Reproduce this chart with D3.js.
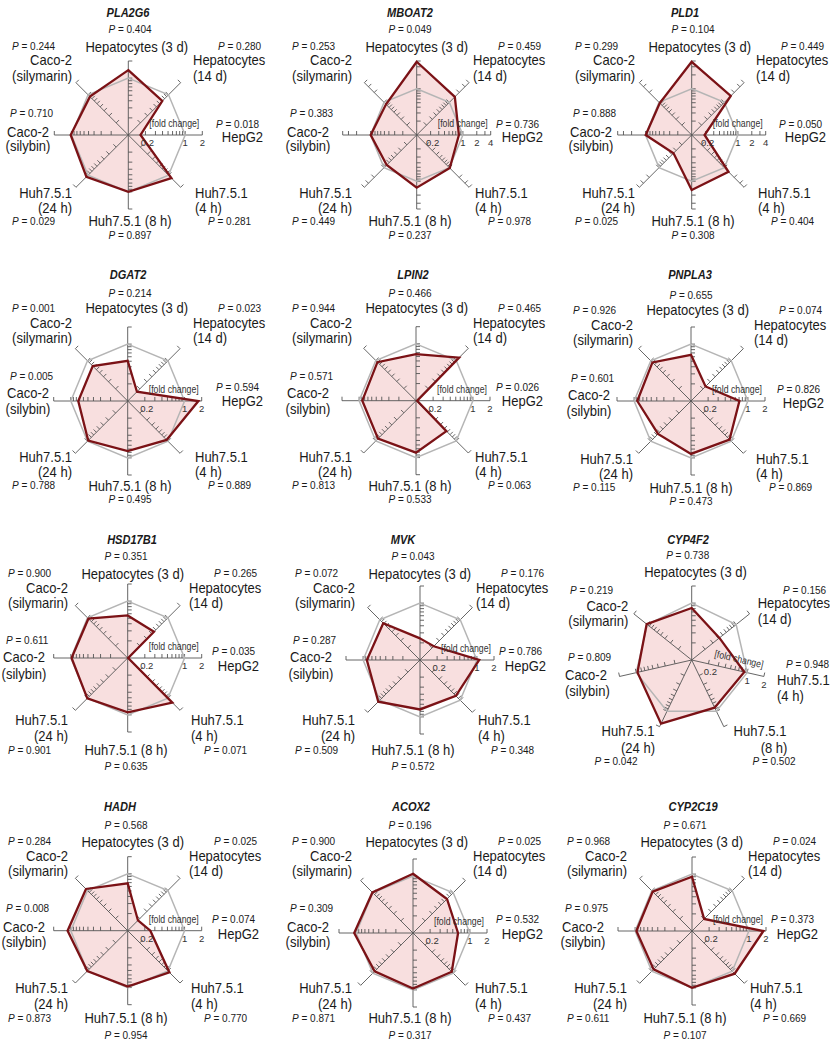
<!DOCTYPE html>
<html><head><meta charset="utf-8">
<script src="https://cdn.jsdelivr.net/npm/d3@7"></script>
<style>
body{margin:0;background:#fff}
text{font-family:"Liberation Sans",Arial,sans-serif;fill:#1a1a1a}
</style></head>
<body><svg id="chart" width="830" height="1044"></svg>
<script>
// Conditions (axes), clockwise from the top
const conditions8 = ["Hepatocytes (3 d)", "Hepatocytes (14 d)", "HepG2", "Huh7.5.1 (4 h)",
  "Huh7.5.1 (8 h)", "Huh7.5.1 (24 h)", "Caco-2 (silybin)", "Caco-2 (silymarin)"];
const conditions7 = ["Hepatocytes (3 d)", "Hepatocytes (14 d)", "Huh7.5.1 (4 h)",
  "Huh7.5.1 (8 h)", "Huh7.5.1 (24 h)", "Caco-2 (silybin)", "Caco-2 (silymarin)"];

const genes = ["PLA2G6", "MBOAT2", "PLD1", "DGAT2", "LPIN2", "PNPLA3",
  "HSD17B1", "MVK", "CYP4F2", "HADH", "ACOX2", "CYP2C19"];

// Fold change (treated / control), one value per condition
const fcPLA2G6  = [1.38, 0.70, 0.164, 1.18, 1.00, 1.10, 1.03, 0.90];
const fcMBOAT2  = [3.85, 1.47, 0.82, 1.03, 1.38, 0.83, 0.99, 0.87];
const fcPLD1    = [3.85, 1.57, 0.19, 1.34, 1.55, 0.36, 0.99, 0.95];
const fcDGAT2   = [0.51, 0.17, 1.75, 0.93, 0.76, 0.96, 0.74, 0.74];
const fcLPIN2   = [0.66, 1.18, 0.105, 0.57, 0.82, 0.88, 0.88, 0.91];
const fcPNPLA3  = [0.65, 0.23, 0.71, 0.91, 0.85, 0.66, 0.88, 0.91];
const fcHSD17B1 = [0.56, 0.45, 0.102, 1.29, 0.90, 1.01, 0.97, 0.95];
const fcMVK     = [0.24, 0.22, 1.10, 0.78, 0.74, 1.09, 0.86, 0.82];
const fcCYP4F2  = [0.82, 0.42, 0.89, 0.85, 1.75, 0.95, 1.03];
const fcHADH    = [0.68, 0.18, 0.25, 1.09, 0.96, 1.01, 1.14, 1.09];
const fcACOX2   = [1.10, 0.70, 0.62, 0.92, 0.95, 0.90, 1.08, 1.02];
const fcCYP2C19 = [0.90, 0.20, 1.80, 1.15, 1.00, 0.90, 0.95, 0.95];

// P values, same order as the conditions
const pPLA2G6  = ["0.404", "0.280", "0.018", "0.281", "0.897", "0.029", "0.710", "0.244"];
const pMBOAT2  = ["0.049", "0.459", "0.736", "0.978", "0.237", "0.449", "0.383", "0.253"];
const pPLD1    = ["0.104", "0.449", "0.050", "0.404", "0.308", "0.025", "0.888", "0.299"];
const pDGAT2   = ["0.214", "0.023", "0.594", "0.889", "0.495", "0.788", "0.005", "0.001"];
const pLPIN2   = ["0.466", "0.465", "0.026", "0.063", "0.533", "0.813", "0.571", "0.944"];
const pPNPLA3  = ["0.655", "0.074", "0.826", "0.869", "0.473", "0.115", "0.601", "0.926"];
const pHSD17B1 = ["0.351", "0.265", "0.035", "0.071", "0.635", "0.901", "0.611", "0.900"];
const pMVK     = ["0.043", "0.176", "0.786", "0.348", "0.572", "0.509", "0.287", "0.072"];
const pCYP4F2  = ["0.738", "0.156", "0.948", "0.502", "0.042", "0.809", "0.219"];
const pHADH    = ["0.568", "0.025", "0.074", "0.770", "0.954", "0.873", "0.008", "0.284"];
const pACOX2   = ["0.196", "0.025", "0.532", "0.437", "0.317", "0.871", "0.309", "0.900"];
const pCYP2C19 = ["0.671", "0.024", "0.373", "0.669", "0.107", "0.611", "0.975", "0.968"];

// Upper end of the log fold-change axis per gene
const axisMax = [2, 4, 4, 2, 2, 2, 2, 2, 2, 2, 2, 2];

// Tick values and labelled ticks
const ticksTo2 = [0.2, 0.3, 0.4, 0.5, 0.6, 0.7, 0.8, 0.9, 1, 2];
const ticksTo4 = [0.2, 0.3, 0.4, 0.5, 0.6, 0.7, 0.8, 0.9, 1, 2, 3, 4];
const tickLabelsTo2 = [0.2, 1, 2];
const tickLabelsTo4 = [0.2, 1, 2, 4];
const referenceFold = 1;

const foldTable = {PLA2G6: fcPLA2G6, MBOAT2: fcMBOAT2, PLD1: fcPLD1, DGAT2: fcDGAT2, LPIN2: fcLPIN2,
  PNPLA3: fcPNPLA3, HSD17B1: fcHSD17B1, MVK: fcMVK, CYP4F2: fcCYP4F2, HADH: fcHADH, ACOX2: fcACOX2, CYP2C19: fcCYP2C19};
const pTable = {PLA2G6: pPLA2G6, MBOAT2: pMBOAT2, PLD1: pPLD1, DGAT2: pDGAT2, LPIN2: pLPIN2,
  PNPLA3: pPNPLA3, HSD17B1: pHSD17B1, MVK: pMVK, CYP4F2: pCYP4F2, HADH: pHADH, ACOX2: pACOX2, CYP2C19: pCYP2C19};

// ---- layout ----
const R = 74;
const panelGeom = {
  PLA2G6:  {row: 0, ox: 0,   cx: 128.3, cy: 135,   tx: 128},
  MBOAT2:  {row: 0, ox: 280, cx: 416.7, cy: 135,   tx: 410},
  PLD1:    {row: 0, ox: 563, cx: 691.7, cy: 135,   tx: 685},
  DGAT2:   {row: 1, ox: 0,   cx: 127.7, cy: 401,   tx: 128},
  LPIN2:   {row: 1, ox: 280, cx: 416,   cy: 400.7, tx: 413},
  PNPLA3:  {row: 1, ox: 561, cx: 691,   cy: 401,   tx: 690, dy: 2},
  HSD17B1: {row: 2, ox: -4,  cx: 127.7, cy: 658,   tx: 132},
  MVK:     {row: 2, ox: 283, cx: 420,   cy: 660,   tx: 403},
  CYP4F2:  {row: 2, ox: 555, cx: 691.7, cy: 660,   tx: 688},
  HADH:    {row: 3, ox: -4,  cx: 127.7, cy: 930.7, tx: 120},
  ACOX2:   {row: 3, ox: 280, cx: 413,   cy: 933,   tx: 411},
  CYP2C19: {row: 3, ox: 555, cx: 692,   cy: 931,   tx: 693}
};
// vertical text positions (centres) for each row of panels
const rowY = [
  {title: 12.7, p3d: 29.3, hep3d: 46.7, pUp: 46.5, up1: 60, up2: 75.7, pMidL: 113, pMidR: 124, midL1: 131.7, midL2: 146, midR: 137, low1: 192.7, low2: 208, pLow: 221.7, huh8: 221, p8: 235},
  {title: 274.3, p3d: 293.3, hep3d: 308.3, pUp: 308.3, up1: 323.3, up2: 338.3, pMidL: 376.7, pMidR: 387.7, midL1: 392.7, midL2: 409, midR: 401, low1: 456.7, low2: 471.7, pLow: 485, huh8: 486, p8: 499},
  {title: 539.3, p3d: 556.7, hep3d: 574, pUp: 573.7, up1: 588.3, up2: 603.3, pMidL: 640, pMidR: 651.7, midL1: 657.3, midL2: 674, midR: 666, low1: 720, low2: 736, pLow: 750, huh8: 750, p8: 766.7},
  {title: 806.7, p3d: 825, hep3d: 841.7, pUp: 841.7, up1: 856, up2: 870.7, pMidL: 908.3, pMidR: 919.3, midL1: 926.7, midL2: 941.7, midR: 934, low1: 988.3, low2: 1004, pLow: 1018.3, huh8: 1018.3, p8: 1035}
];

const svg = d3.select("#chart");
const LABEL_SIZE = 14, LABEL_SQUEEZE = 0.93, P_SIZE = 10;
const TITLE_SIZE = 13, TITLE_SQUEEZE = 0.85;

// axis-condition label: slightly condensed sans
function label(g, x, y, str, anchor) {
  return g.append("text").attr("transform", `translate(${x},${y}) scale(${LABEL_SQUEEZE},1)`)
    .attr("dy", "0.35em").attr("text-anchor", anchor).attr("font-size", LABEL_SIZE).text(str);
}
function pLabel(g, x, y, val, anchor) {
  const t = g.append("text").attr("x", x).attr("y", y).attr("dy", "0.35em")
    .attr("text-anchor", anchor).attr("font-size", P_SIZE);
  t.append("tspan").attr("font-style", "italic").text("P");
  t.append("tspan").text(" = " + val);
}
function splitName(name) {
  const i = name.indexOf(" (");
  return [name.slice(0, i), name.slice(i + 1)];
}

function drawRadar(gene, idx) {
  const geo = panelGeom[gene];
  const cats = gene === "CYP4F2" ? conditions7 : conditions8;
  const vals = foldTable[gene];
  const max = axisMax[idx];
  const n = cats.length;
  const rScale = d3.scaleLog().domain([0.1, max]).range([0, R]).clamp(true);
  const ang = d3.scaleLinear().domain([0, n]).range([0, 2 * Math.PI]);
  const g = svg.append("g").attr("transform", `translate(${geo.cx},${geo.cy})`);
  const radial = d3.lineRadial().angle((d, i) => ang(i)).radius(d => rScale(d)).curve(d3.curveLinearClosed);

  // filled area
  g.append("path").attr("d", radial(vals)).attr("fill", "#f8dfdf").attr("stroke", "none");

  // axes with log ticks
  const ticks = max === 4 ? ticksTo4 : ticksTo2;
  const unit = i => [Math.sin(ang(i)), -Math.cos(ang(i))];
  cats.forEach((c, i) => {
    const [ux, uy] = unit(i);
    let nx = uy, ny = -ux;          // perpendicular, pick the one pointing up (or right)
    if (ny > 1e-6 || (Math.abs(ny) < 1e-6 && nx < 0)) { nx = -nx; ny = -ny; }
    g.append("line").attr("x1", 0).attr("y1", 0).attr("x2", ux * R).attr("y2", uy * R)
      .attr("stroke", "#555").attr("stroke-width", 0.9);
    ticks.forEach(t => {
      const r = rScale(t);
      g.append("line").attr("x1", ux * r).attr("y1", uy * r)
        .attr("x2", ux * r + nx * 4).attr("y2", uy * r + ny * 4)
        .attr("stroke", "#555").attr("stroke-width", 0.9);
    });
  });

  // reference polygon (fold change = 1)
  g.append("path").attr("d", radial(cats.map(() => referenceFold)))
    .attr("fill", "none").attr("stroke", "#b5b5b5").attr("stroke-width", 1.5);

  // data outline
  g.append("path").attr("d", radial(vals)).attr("fill", "none")
    .attr("stroke", "#7b1216").attr("stroke-width", 2.3).attr("stroke-linejoin", "miter");

  // fold change scale labels along the axis just right of horizontal
  const si = cats.indexOf(gene === "CYP4F2" ? "Huh7.5.1 (4 h)" : "HepG2");
  const [sx, sy] = unit(si);
  const rot = Math.atan2(sy, sx) * 180 / Math.PI;
  const fx = sx * (R - 3) + sy * 8, fy = sy * (R - 3) - sx * 8;
  g.append("text").attr("transform", `translate(${fx},${fy}) rotate(${rot})`)
    .attr("text-anchor", "end").attr("font-size", 10).attr("textLength", 50)
    .attr("lengthAdjust", "spacingAndGlyphs").style("fill", "#333").text("[fold change]");
  (max === 4 ? tickLabelsTo4 : tickLabelsTo2).forEach(t => {
    const r = rScale(t);
    g.append("text").attr("x", sx * r + (t === 0.2 ? 2 : 0)).attr("y", sy * r + 8)
      .attr("dy", "0.35em").attr("text-anchor", "middle").attr("font-size", 9.5)
      .style("fill", "#333").text(t);
  });

  // title
  svg.append("text")
    .attr("transform", `translate(${geo.tx},${rowY[geo.row].title}) scale(${TITLE_SQUEEZE},1)`)
    .attr("dy", "0.35em").attr("text-anchor", "middle").attr("font-size", TITLE_SIZE)
    .attr("font-weight", "bold").attr("font-style", "italic").text(gene);
}

function drawLabels8(gene) {
  const geo = panelGeom[gene], Y = rowY[geo.row], o = geo.ox, d = geo.dy || 0;
  const p = pTable[gene];
  const g = svg.append("g");
  const c = conditions8;
  pLabel(g, o + 130, Y.p3d + d, p[0], "middle");
  label(g, o + 136.7, Y.hep3d + d, c[0], "middle");
  // Hepatocytes (14 d)
  pLabel(g, o + 218, Y.pUp + d, p[1], "start");
  splitName(c[1]).forEach((s, k) => label(g, o + 193, (k ? Y.up2 : Y.up1) + d, s, "start"));
  // HepG2
  pLabel(g, o + 216, Y.pMidR + d, p[2], "start");
  label(g, o + 263, Y.midR + d, c[2], "end");
  // Huh7.5.1 (4 h)
  splitName(c[3]).forEach((s, k) => label(g, o + 195, (k ? Y.low2 : Y.low1) + d, s, "start"));
  pLabel(g, o + 208, Y.pLow + d, p[3], "start");
  // Huh7.5.1 (8 h)
  label(g, o + 130, Y.huh8 + d, c[4], "middle");
  pLabel(g, o + 130, Y.p8 + d, p[4], "middle");
  // Huh7.5.1 (24 h)
  splitName(c[5]).forEach((s, k) => label(g, o + 72, (k ? Y.low2 : Y.low1) + d, s, "end"));
  pLabel(g, o + 12, Y.pLow + d, p[5], "start");
  // Caco-2 (silybin)
  pLabel(g, o + 10, Y.pMidL + d, p[6], "start");
  splitName(c[6]).forEach((s, k) => label(g, o + 28, (k ? Y.midL2 : Y.midL1) + d, s, "middle"));
  // Caco-2 (silymarin)
  pLabel(g, o + 12, Y.pUp + d, p[7], "start");
  splitName(c[7]).forEach((s, k) => label(g, o + 72, (k ? Y.up2 : Y.up1) + d, s, "end"));
}

function drawLabels7(gene) {
  const p = pTable[gene];
  const c = conditions7;
  const g = svg.append("g");
  pLabel(g, 687.7, 555, p[0], "middle");
  label(g, 695.5, 572.3, c[0], "middle");
  pLabel(g, 783, 590.7, p[1], "start");
  splitName(c[1]).forEach((s, k) => label(g, 757.7, k ? 619 : 603.3, s, "start"));
  pLabel(g, 786, 664, p[2], "start");
  splitName(c[2]).forEach((s, k) => label(g, 777, k ? 695.7 : 680, s, "start"));
  splitName(c[3]).forEach((s, k) => label(g, k ? 774 : 760, k ? 748.3 : 730.7, s, "middle"));
  pLabel(g, 774, 761.7, p[3], "middle");
  splitName(c[4]).forEach((s, k) => label(g, k ? 638 : 628, k ? 748.3 : 730.7, s, "middle"));
  pLabel(g, 616, 761.7, p[4], "middle");
  pLabel(g, 568, 657.3, p[5], "start");
  splitName(c[5]).forEach((s, k) => label(g, 565, k ? 690.7 : 675, s, "start"));
  pLabel(g, 570, 590.7, p[6], "start");
  splitName(c[6]).forEach((s, k) => label(g, 628.3, k ? 620.7 : 605.7, s, "end"));
}

genes.forEach((gene, i) => {
  drawRadar(gene, i);
  if (gene === "CYP4F2") drawLabels7(gene); else drawLabels8(gene);
});
</script>
</body></html>
